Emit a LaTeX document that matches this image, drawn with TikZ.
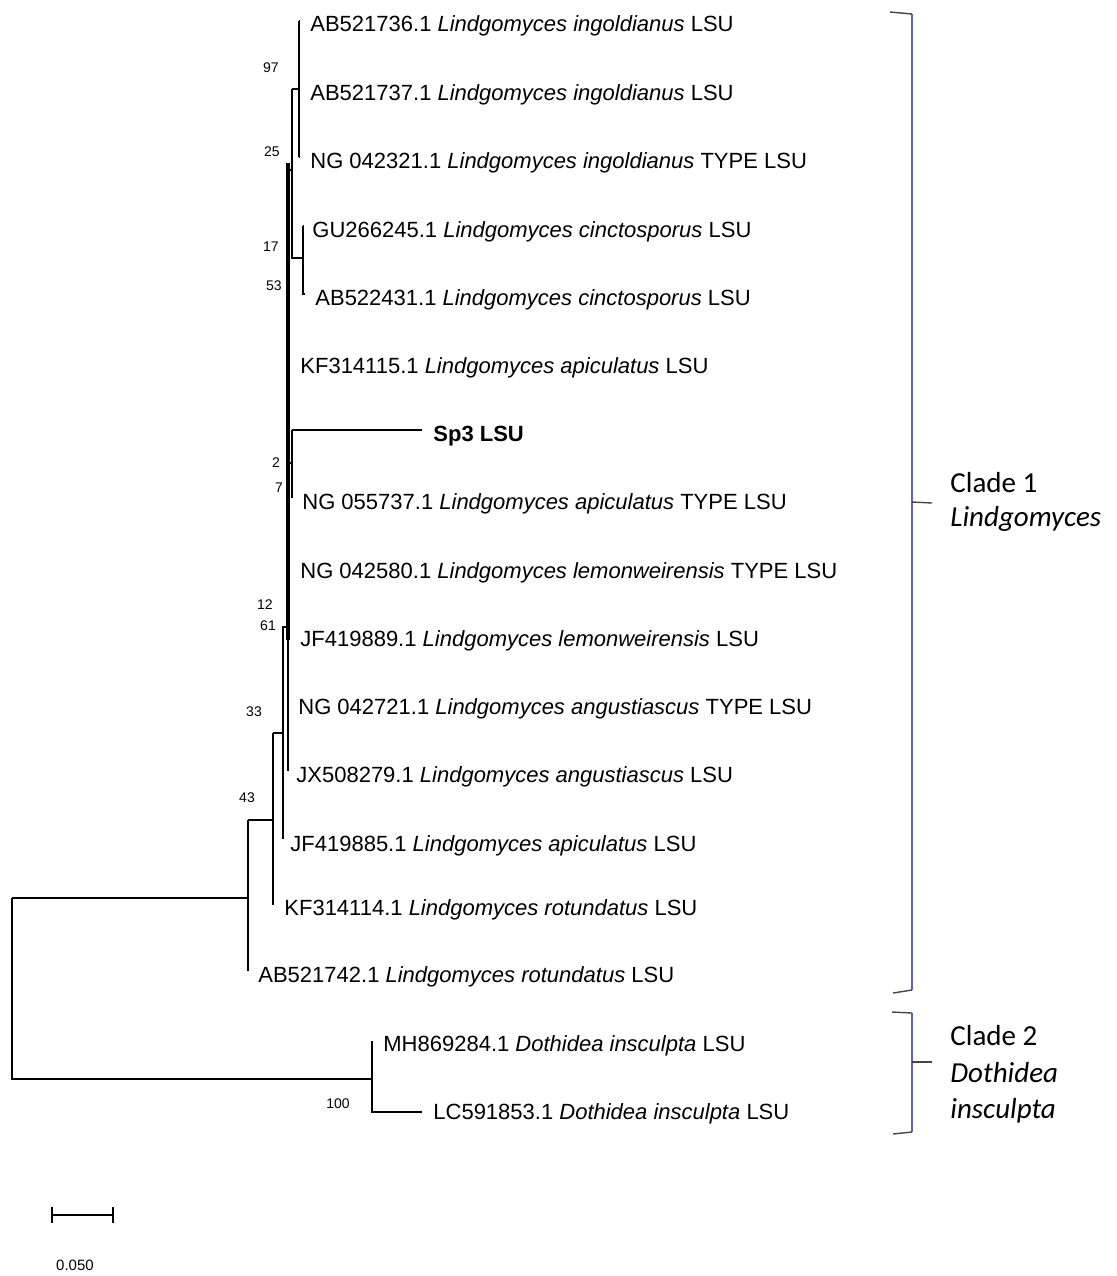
\documentclass[tikz,border=0pt]{standalone}
\usepackage{fontspec}
\usetikzlibrary{calc}
\setmainfont{Liberation Sans}
\newfontfamily\cladefont{Carlito}
\definecolor{brblue}{RGB}{95,95,200}
\definecolor{tickgray}{RGB}{70,70,70}
\begin{document}
\begin{tikzpicture}[x=0.5pt,y=-0.5pt,
  br/.style={line width=0.6pt,black},
  backbone/.style={line width=1.6pt,black},
  lab/.style={anchor=base west,inner sep=0pt,font=\fontsize{11}{13}\selectfont},
  boot/.style={anchor=center,inner sep=0pt,font=\fontsize{7}{8}\selectfont},
  clade/.style={anchor=base west,inner sep=0pt,font=\cladefont\fontsize{14.5}{17}\selectfont},
  brace/.style={line width=0.8pt,brblue},
  bracketend/.style={line width=0.7pt,tickgray}]
\useasboundingbox (0,0) rectangle (1116,1276);
\fill[white] (0,0) rectangle (1116,1276);

% tips
\coordinate (t1) at (300,21);
\coordinate (t2) at (300,90);
\coordinate (t3) at (300,157);
\coordinate (t4) at (304,226);
\coordinate (t5) at (305,294);
\coordinate (t6) at (290,362);
\coordinate (t7) at (422,430);
\coordinate (t8) at (292,498);
\coordinate (t9) at (289,567);
\coordinate (t10) at (289,635);
\coordinate (t11) at (289,703);
\coordinate (t12) at (288,771);
\coordinate (t13) at (283,839);
\coordinate (t14) at (273,905);
\coordinate (t15) at (248,971);
\coordinate (t16) at (372,1041);
\coordinate (t17) at (422,1112);
% internal nodes
\coordinate (nA) at (299,89);
\coordinate (nB) at (303,258);
\coordinate (nC) at (292,170);
\coordinate (nDtop) at (288,163);
\coordinate (nDmid) at (288,640);
\coordinate (nDbot) at (288,771);
\coordinate (nE) at (292,463);
\coordinate (nF) at (283,733);
\coordinate (nFtop) at (283,627);
\coordinate (nG) at (273,820);
\coordinate (nH) at (248,898);
\coordinate (nR) at (12,990);
\coordinate (nI) at (372,1079);

% ingoldianus clade
\draw[br] (nA|-t1) -- (nA|-t3);
\draw[br] (nA|-t1) -- (t1);
\draw[br] (nA|-t3) -- (t3);
% cinctosporus clade
\draw[br] (nB|-t4) -- (nB|-t5) -- (t5);
\draw[br] (nB|-t4) -- (t4);
% node joining the two
\draw[br] (nC|-nA) -- (nA);
\draw[br] (nC|-nA) -- (nC|-nB) -- (nB);
% backbone
\draw[backbone] (nDtop) -- (nDmid);
\draw[br] (nDmid) -- (nDbot);
\draw[br] (nDtop|-nC) -- (nC);
\draw[br] (nDtop|-t6) -- (t6);
% Sp3 clade
\draw[br] (nDtop|-nE) -- (nE);
\draw[br] (nE|-t7) -- (t7);
\draw[br] (nE|-t7) -- (nE|-t8) -- (t8);
\draw[br] (nDtop|-t9) -- (t9);
% outer nodes
\draw[br] (nDtop|-nFtop) -- (nFtop) -- (nF|-t13) -- (t13);
\draw[br] (nG|-nF) -- (nF);
\draw[br] (nG|-nF) -- (nG|-t14) -- (t14);
\draw[br] (nH|-nG) -- (nG);
\draw[br] (nH|-nG) -- (nH|-t15) -- (t15);
\draw[br] (nR|-nH) -- (nH);
\draw[br] (nR|-nH) -- (nR|-nI) -- (nI);
\draw[br] (nI|-t16) -- (nI|-t17) -- (t17);
\draw[br] (nI|-t16) -- (t16);

% leaf labels
\node[lab] (l1) at (310,31) {AB521736.1 \textit{Lindgomyces ingoldianus} LSU};
\node[lab] (l2) at (310,100) {AB521737.1 \textit{Lindgomyces ingoldianus} LSU};
\node[lab] (l3) at (310,168) {NG 042321.1 \textit{Lindgomyces ingoldianus} TYPE LSU};
\node[lab] (l4) at (312,237) {GU266245.1 \textit{Lindgomyces cinctosporus} LSU};
\node[lab] (l5) at (315,305) {AB522431.1 \textit{Lindgomyces cinctosporus} LSU};
\node[lab] (l6) at (300,373) {KF314115.1 \textit{Lindgomyces apiculatus} LSU};
\node[lab] (l7) at (433,441) {\textbf{Sp3 LSU}};
\node[lab] (l8) at (302,509) {NG 055737.1 \textit{Lindgomyces apiculatus} TYPE LSU};
\node[lab] (l9) at (300,578) {NG 042580.1 \textit{Lindgomyces lemonweirensis} TYPE LSU};
\node[lab] (l10) at (300,646) {JF419889.1 \textit{Lindgomyces lemonweirensis} LSU};
\node[lab] (l11) at (298,714) {NG 042721.1 \textit{Lindgomyces angustiascus} TYPE LSU};
\node[lab] (l12) at (296,782) {JX508279.1 \textit{Lindgomyces angustiascus} LSU};
\node[lab] (l13) at (290,851) {JF419885.1 \textit{Lindgomyces apiculatus} LSU};
\node[lab] (l14) at (284,915) {KF314114.1 \textit{Lindgomyces rotundatus} LSU};
\node[lab] (l15) at (258,982) {AB521742.1 \textit{Lindgomyces rotundatus} LSU};
\node[lab] (l16) at (383,1051) {MH869284.1 \textit{Dothidea insculpta} LSU};
\node[lab] (l17) at (433,1119) {LC591853.1 \textit{Dothidea insculpta} LSU};

% bootstrap values
\node[boot] (b97) at (271,68) {97};
\node[boot] (b25) at (272,152) {25};
\node[boot] (b17) at (271,247) {17};
\node[boot] (b53) at (274,286) {53};
\node[boot] (b2) at (276,463) {2};
\node[boot] (b7) at (279,488) {7};
\node[boot] (b12) at (265,605) {12};
\node[boot] (b61) at (268,626) {61};
\node[boot] (b33) at (254,712) {33};
\node[boot] (b43) at (247,798) {43};
\node[boot] (b100) at (338,1104) {100};

% scale bar
\coordinate (sbL) at (52,1215);
\coordinate (sbR) at (113,1215);
\draw[br] (sbL) -- (sbR);
\draw[br] ($(sbL)+(0,-8)$) -- ($(sbL)+(0,8)$);
\draw[br] ($(sbR)+(0,-8)$) -- ($(sbR)+(0,8)$);
\node[inner sep=0pt,font=\fontsize{7.5}{9}\selectfont] (sblab) at (75,1265) {0.050};

% clade brackets
\coordinate (c1top) at (912,14);
\coordinate (c1mid) at (912,502);
\coordinate (c1bot) at (912,990);
\draw[brace] (c1top) -- (c1bot);
\draw[bracketend] (c1top) -- (890,12);
\draw[bracketend] (c1bot) -- (893,993);
\draw[bracketend] (c1mid) -- (932,503);
\coordinate (c2top) at (912,1013);
\coordinate (c2mid) at (912,1062);
\coordinate (c2bot) at (912,1132);
\draw[brace] (c2top) -- (c2bot);
\draw[bracketend] (c2top) -- (892,1012);
\draw[bracketend] (c2bot) -- (893,1134);
\draw[bracketend] (c2mid) -- (932,1062);

\node[clade] (cl1a) at (950,492) {Clade 1};
\node[clade] (cl1b) at (950,526) {\textit{Lindgomyces}};
\node[clade] (cl2a) at (950,1045) {Clade 2};
\node[clade] (cl2b) at (950,1082) {\textit{Dothidea}};
\node[clade] (cl2c) at (950,1118) {\textit{insculpta}};
\end{tikzpicture}
\end{document}
